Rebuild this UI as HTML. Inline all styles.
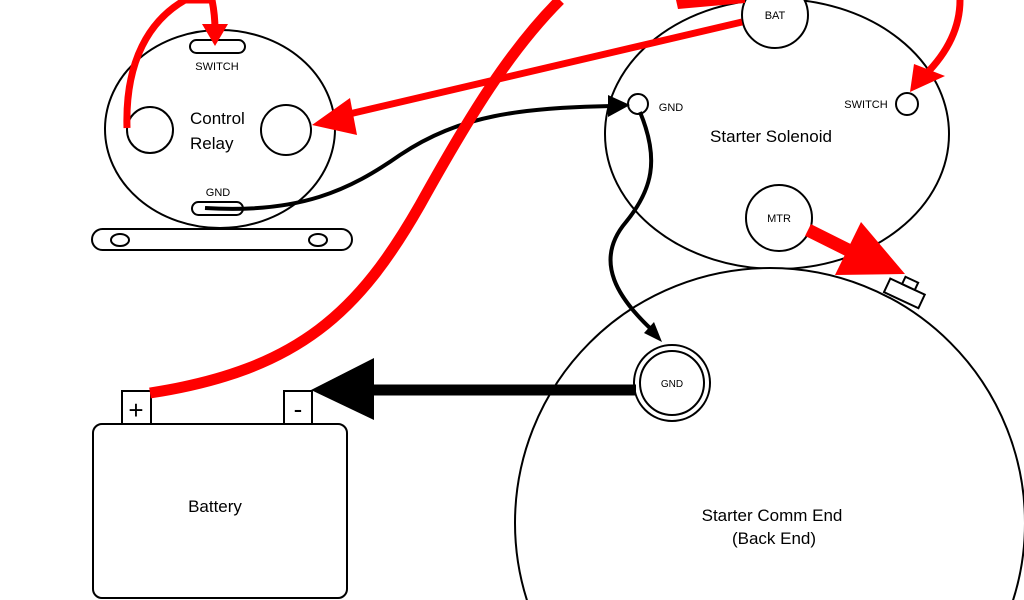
<!DOCTYPE html>
<html><head><style>html,body{margin:0;padding:0;background:#fff;width:1024px;height:600px;overflow:hidden}svg{display:block}</style></head>
<body>
<svg width="1024" height="600" viewBox="0 0 1024 600" xmlns="http://www.w3.org/2000/svg" font-family="Liberation Sans, sans-serif">
<rect width="1024" height="600" fill="#fff"/>
<g fill="none" stroke="#000" stroke-width="2">
  <ellipse cx="220" cy="129" rx="115" ry="99"/>
  <rect x="190" y="40" width="55" height="13" rx="6.5"/>
  <rect x="192" y="202" width="51" height="13" rx="6.5"/>
  <circle cx="150" cy="130" r="23"/>
  <circle cx="286" cy="130" r="25"/>
  <rect x="92" y="229" width="260" height="21" rx="10.5" fill="#fff"/>
  <ellipse cx="120" cy="240" rx="9" ry="6"/>
  <ellipse cx="318" cy="240" rx="9" ry="6"/>
  <ellipse cx="777" cy="134" rx="172" ry="135"/>
  <circle cx="775" cy="15" r="33" fill="#fff"/>
  <circle cx="638" cy="104" r="10" fill="#fff"/>
  <circle cx="907" cy="104" r="11" fill="#fff"/>
  <circle cx="779" cy="218" r="33" fill="#fff"/>
  <circle cx="770" cy="523" r="255" fill="#fff"/>
  <circle cx="672" cy="383" r="38" fill="#fff"/>
  <circle cx="672" cy="383" r="32"/>
  <g transform="rotate(25 905 292)">
    <rect x="886" y="286" width="38" height="15" fill="#fff"/>
    <rect x="899" y="278" width="14" height="8" fill="#fff"/>
  </g>
  <rect x="93" y="424" width="254" height="174" rx="9" fill="#fff"/>
  <rect x="122" y="391" width="29" height="33" fill="#fff"/>
  <rect x="284" y="391" width="28" height="33" fill="#fff"/>
</g>
<g fill="#000" font-size="11" text-anchor="middle">
  <text x="217" y="70">SWITCH</text>
  <text x="218" y="196">GND</text>
  <text x="775" y="19">BAT</text>
  <text x="671" y="111">GND</text>
  <text x="866" y="108">SWITCH</text>
  <text x="779" y="222">MTR</text>
  <text x="672" y="387" font-size="10">GND</text>
</g>
<g fill="#000" font-size="17">
  <text x="190" y="124">Control</text>
  <text x="190" y="149">Relay</text>
  <text x="771" y="142" text-anchor="middle">Starter Solenoid</text>
  <text x="215" y="512" text-anchor="middle">Battery</text>
  <text x="772" y="521" text-anchor="middle">Starter Comm End</text>
  <text x="774" y="544" text-anchor="middle">(Back End)</text>
  <text x="136" y="419" text-anchor="middle" font-size="26">+</text>
  <text x="298" y="418" text-anchor="middle" font-size="26">-</text>
</g>
<g fill="none" stroke="#000" stroke-width="4">
  <path d="M205,208 C300,214 350,190 400,155 C460,115 520,108 612,106"/>
  <path d="M640,112 C660,160 652,190 626,222 C592,262 620,300 652,330"/>
  <path d="M636,390 L370,390" stroke-width="11"/>
</g>
<polygon points="630,105 608,95 608,117" fill="#000"/>
<polygon points="662,342 644,333 654,322" fill="#000"/>
<polygon points="311,390 374,358 374,420" fill="#000"/>
<g fill="none" stroke="#f00">
  <path d="M150,393 C300,370 360,310 420,205 C470,115 510,50 560,0" stroke-width="11"/>
  <path d="M742,22 L345,115" stroke-width="7"/>
  <path d="M127,128 C125,60 150,20 185,0 L212,0 C214,10 215,20 215,30" stroke-width="7"/>
  <path d="M960,0 C960,30 945,55 925,75" stroke-width="7"/>
  <path d="M808,230 L860,256" stroke-width="13"/>
</g>
<polygon points="676,0 745,0 745,3 678,9" fill="#f00"/>
<polygon points="312,125 350,98 357,135" fill="#f00"/>
<polygon points="215,46 202,24 228,24" fill="#f00"/>
<polygon points="910,92 914,64 945,76" fill="#f00"/>
<polygon points="905,274 861,222 835,275" fill="#f00"/>
</svg>
</body></html>
